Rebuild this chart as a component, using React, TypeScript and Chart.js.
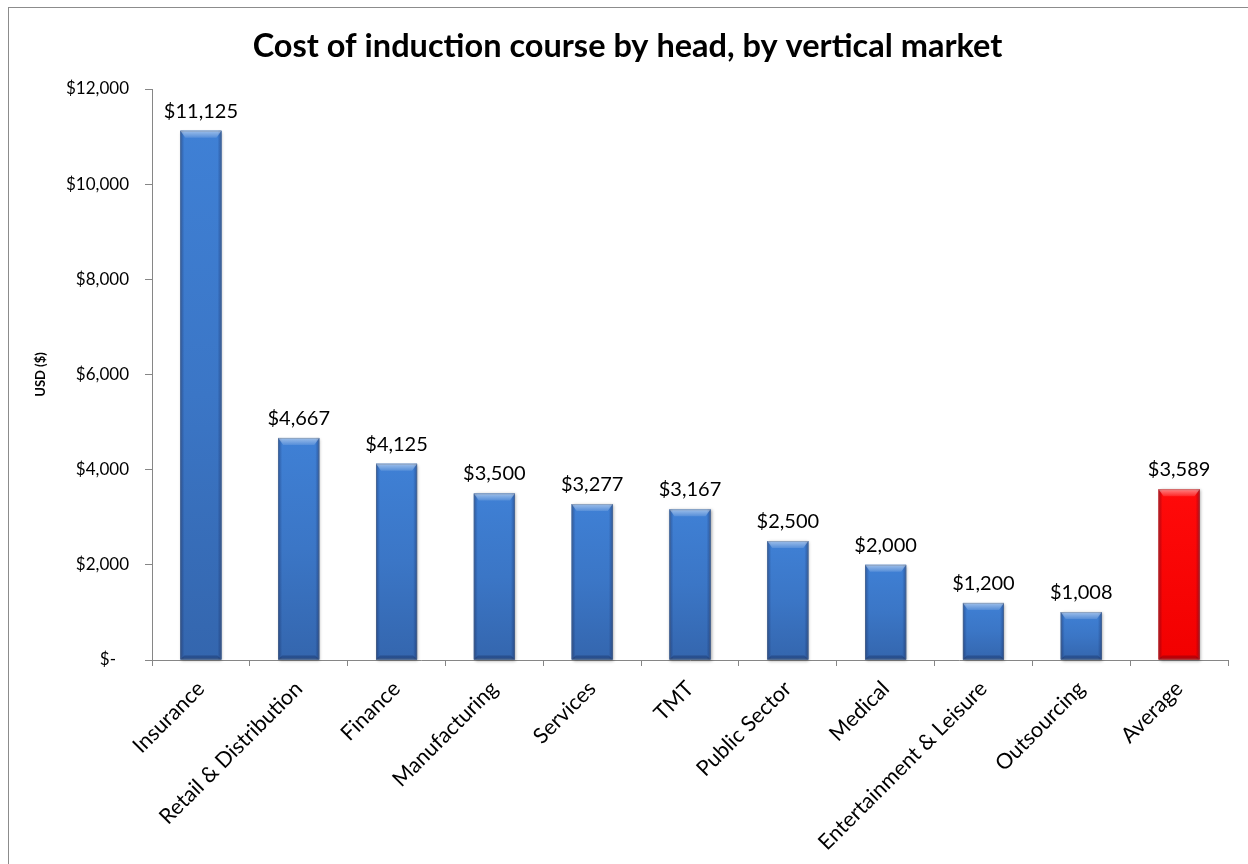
import React, { useEffect, useRef } from "react";
import { Chart, registerables } from "chart.js";

Chart.register(...registerables);

const chartTitle = "Cost of induction course by head, by vertical market";
const yAxisTitle = "USD ($)";
const categories = [
  "Insurance",
  "Retail & Distribution",
  "Finance",
  "Manufacturing",
  "Services",
  "TMT",
  "Public Sector",
  "Medical",
  "Entertainment & Leisure",
  "Outsourcing",
  "Average",
];
const costPerHead = [11125, 4667, 4125, 3500, 3277, 3167, 2500, 2000, 1200, 1008, 3589];
const yTickValues = [0, 2000, 4000, 6000, 8000, 10000, 12000];
const yTickLabels = ["$-   ", "$2,000", "$4,000", "$6,000", "$8,000", "$10,000", "$12,000"];

const FONT = "Lato, 'Open Sans', sans-serif";
const AXIS_COLOR = "#868686";

const fmt = (v: number) => "$" + v.toLocaleString("en-US");

const isHighlight = (i: number) => i === categories.length - 1;

const bevelPlugin = {
  id: "bevelBars",
  afterDatasetsDraw(chart: any) {
    const ctx = chart.ctx as CanvasRenderingContext2D;
    const meta = chart.getDatasetMeta(0);
    meta.data.forEach((bar: any, i: number) => {
      const { x, y, base, width } = bar.getProps(["x", "y", "base", "width"], true);
      const L = x - width / 2;
      const R = x + width / 2;
      const T = Math.min(y, base);
      const B = Math.max(y, base);
      const red = isHighlight(i);
      ctx.save();
      ctx.shadowColor = "rgba(0,0,0,0.35)";
      ctx.shadowBlur = 3;
      ctx.shadowOffsetX = 1;
      ctx.shadowOffsetY = 1;
      const body = ctx.createLinearGradient(0, T, 0, B);
      if (red) {
        body.addColorStop(0, "#ff0a0a");
        body.addColorStop(1, "#f20000");
      } else {
        body.addColorStop(0, "#3f80d5");
        body.addColorStop(0.5, "#3b76c6");
        body.addColorStop(1, "#3466ae");
      }
      ctx.fillStyle = body;
      ctx.fillRect(L, T, width, B - T);
      ctx.restore();

      ctx.save();
      const sw = 4;
      const lg = ctx.createLinearGradient(L, 0, L + sw, 0);
      lg.addColorStop(0, "rgba(0,0,40,0.3)");
      lg.addColorStop(1, "rgba(0,0,40,0)");
      ctx.fillStyle = lg;
      ctx.fillRect(L, T, sw, B - T);
      const rg = ctx.createLinearGradient(R - sw, 0, R, 0);
      rg.addColorStop(0, "rgba(0,0,40,0)");
      rg.addColorStop(1, "rgba(0,0,40,0.3)");
      ctx.fillStyle = rg;
      ctx.fillRect(R - sw, T, sw, B - T);
      ctx.beginPath();
      ctx.moveTo(L, B);
      ctx.lineTo(R, B);
      ctx.lineTo(R - 4, B - 4);
      ctx.lineTo(L + 4, B - 4);
      ctx.closePath();
      ctx.fillStyle = "rgba(0,0,30,0.22)";
      ctx.fill();
      const bh = 7;
      const tg = ctx.createLinearGradient(0, T, 0, T + bh);
      tg.addColorStop(0, "rgba(255,255,255,0.5)");
      tg.addColorStop(1, "rgba(255,255,255,0.12)");
      ctx.beginPath();
      ctx.moveTo(L, T);
      ctx.lineTo(R, T);
      ctx.lineTo(R - 5, T + bh);
      ctx.lineTo(L + 5, T + bh);
      ctx.closePath();
      ctx.fillStyle = tg;
      ctx.fill();
      ctx.strokeStyle = "rgba(120,120,120,0.35)";
      ctx.lineWidth = 1;
      ctx.strokeRect(L + 0.5, T + 0.5, width - 1, B - T - 1);
      ctx.restore();
    });
  },
};

const dataLabelPlugin = {
  id: "valueLabels",
  afterDatasetsDraw(chart: any) {
    const ctx = chart.ctx as CanvasRenderingContext2D;
    const meta = chart.getDatasetMeta(0);
    const data = chart.data.datasets[0].data as number[];
    ctx.save();
    ctx.font = `20px ${FONT}`;
    ctx.fillStyle = "#000";
    ctx.textAlign = "center";
    ctx.textBaseline = "alphabetic";
    meta.data.forEach((bar: any, i: number) => {
      const { x, y } = bar.getProps(["x", "y"], true);
      ctx.fillText(fmt(data[i]), x, y - 13);
    });
    ctx.restore();
  },
};

export default function App() {
  const canvasRef = useRef<HTMLCanvasElement | null>(null);

  useEffect(() => {
    if (!canvasRef.current) return;
    const chart = new Chart(canvasRef.current, {
      type: "bar",
      data: {
        labels: categories,
        datasets: [
          {
            label: "Cost per head",
            data: costPerHead,
            backgroundColor: (c: any) => (isHighlight(c.dataIndex) ? "#ff0000" : "#3b78c8"),
            borderWidth: 0,
            barPercentage: 0.42,
            categoryPercentage: 1,
          },
        ],
      },
      options: {
        responsive: false,
        animation: false,
        devicePixelRatio: 1,
        layout: { padding: { left: 27, right: 20, top: 0, bottom: 0 } },
        plugins: {
          legend: { display: false },
          tooltip: { enabled: false },
          title: {
            display: true,
            text: chartTitle,
            color: "#000",
            font: { family: FONT, size: 32.5, weight: "bold" },
            padding: { top: 27, bottom: 23 },
          },
        },
        scales: {
          x: {
            afterFit: (s: any) => {
              s.height = 204;
            },
            border: { display: true, color: AXIS_COLOR, width: 1 },
            grid: {
              drawOnChartArea: false,
              drawTicks: true,
              tickLength: 6,
              color: AXIS_COLOR,
              offset: true,
            },
            ticks: {
              color: "#000",
              font: { family: FONT, size: 21.5 },
              maxRotation: 45,
              minRotation: 45,
              autoSkip: false,
              padding: 10,
            },
          },
          y: {
            min: 0,
            max: 12000,
            afterFit: (s: any) => {
              s.width = 125;
            },
            afterBuildTicks: (s: any) => {
              s.ticks = yTickValues.map((v) => ({ value: v }));
            },
            border: { display: true, color: AXIS_COLOR, width: 1 },
            grid: {
              drawOnChartArea: false,
              drawTicks: true,
              tickLength: 7,
              color: AXIS_COLOR,
            },
            ticks: {
              color: "#000",
              font: { family: FONT, size: 17 },
              padding: 16,
              callback: (_v: any, idx: number) => yTickLabels[idx],
            },
            title: {
              display: true,
              text: yAxisTitle,
              color: "#000",
              font: { family: FONT, size: 13, weight: "bold" },
              padding: { top: 6, bottom: 0 },
            },
          },
        },
      },
      plugins: [bevelPlugin, dataLabelPlugin],
    });
    return () => chart.destroy();
  }, []);

  return (
    <div style={{ position: "fixed", left: 0, top: 0, width: 1248, height: 864, background: "#fff", overflow: "hidden" }}>
      <div
        style={{
          position: "absolute",
          left: 8,
          top: 7,
          width: 1260,
          height: 880,
          border: "1px solid #8c8c8c",
          boxSizing: "border-box",
        }}
      />
      <canvas
        ref={canvasRef}
        width={1248}
        height={864}
        style={{ position: "absolute", left: 0, top: 0, display: "block" }}
      />
    </div>
  );
}
